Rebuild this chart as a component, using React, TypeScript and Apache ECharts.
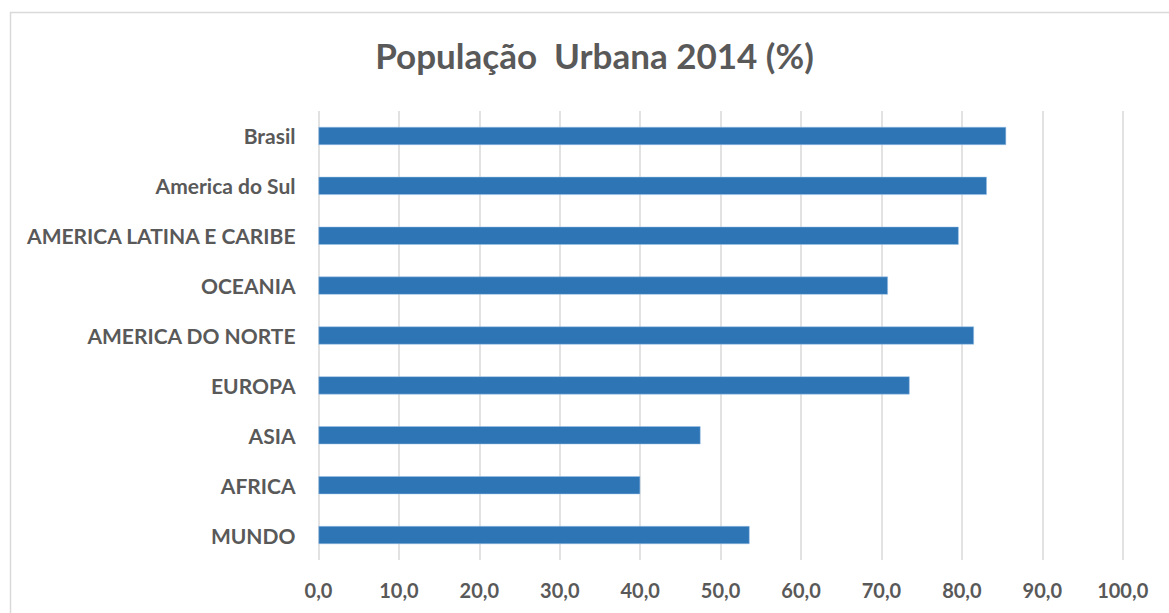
import React, { useEffect, useRef } from "react";
import * as echarts from "echarts";

const categories = [
  "Brasil",
  "America do Sul",
  "AMERICA LATINA E CARIBE",
  "OCEANIA",
  "AMERICA DO NORTE",
  "EUROPA",
  "ASIA",
  "AFRICA",
  "MUNDO",
];
const values = [85.5, 83.1, 79.6, 70.8, 81.5, 73.5, 47.5, 40.0, 53.6];
const xTicks = { min: 0, max: 100, interval: 10 };
const titleText = "População  Urbana 2014 (%)";

const FONT = "Lato, 'Open Sans', sans-serif";
const GRAY = "#595959";

export default function App() {
  const ref = useRef<HTMLDivElement>(null);
  useEffect(() => {
    document.body.style.margin = "0";
    const chart = echarts.init(ref.current!, null, { renderer: "svg" });
    chart.setOption({
      animation: false,
      backgroundColor: "#ffffff",
      graphic: [
        {
          type: "rect",
          shape: { x: 10.5, y: 12.5, width: 1300, height: 800 },
          style: { fill: "none", stroke: "#d9d9d9", lineWidth: 1.5 },
          silent: true,
        },
        {
          type: "text",
          x: 594.5,
          y: 55,
          style: {
            text: titleText,
            fill: GRAY,
            font: `bold 35px ${FONT}`,
            align: "center",
            verticalAlign: "middle",
          },
        },
      ],
      grid: { left: 318.5, right: 46.3, top: 111, bottom: 53, containLabel: false },
      xAxis: {
        type: "value",
        min: xTicks.min,
        max: xTicks.max,
        interval: xTicks.interval,
        axisLine: { show: false },
        axisTick: { show: false },
        splitLine: { show: true, lineStyle: { color: "#d9d9d9", width: 1.5 } },
        axisLabel: {
          color: GRAY,
          fontFamily: FONT,
          fontWeight: "bold",
          fontSize: 20,
          margin: 20,
          formatter: (v: number) => v.toFixed(1).replace(".", ","),
        },
      },
      yAxis: {
        type: "category",
        data: categories,
        inverse: true,
        axisLine: { show: false },
        axisTick: { show: false },
        axisLabel: {
          color: GRAY,
          fontFamily: FONT,
          fontWeight: "bold",
          fontSize: 21,
          margin: 23,
        },
      },
      series: [
        {
          type: "bar",
          data: values,
          barWidth: 18,
          itemStyle: { color: "#2e75b6", borderColor: "#9dc3e6", borderWidth: 0.5 },
        },
      ],
    });
    return () => chart.dispose();
  }, []);
  return <div ref={ref} style={{ width: 1169, height: 613 }} />;
}
